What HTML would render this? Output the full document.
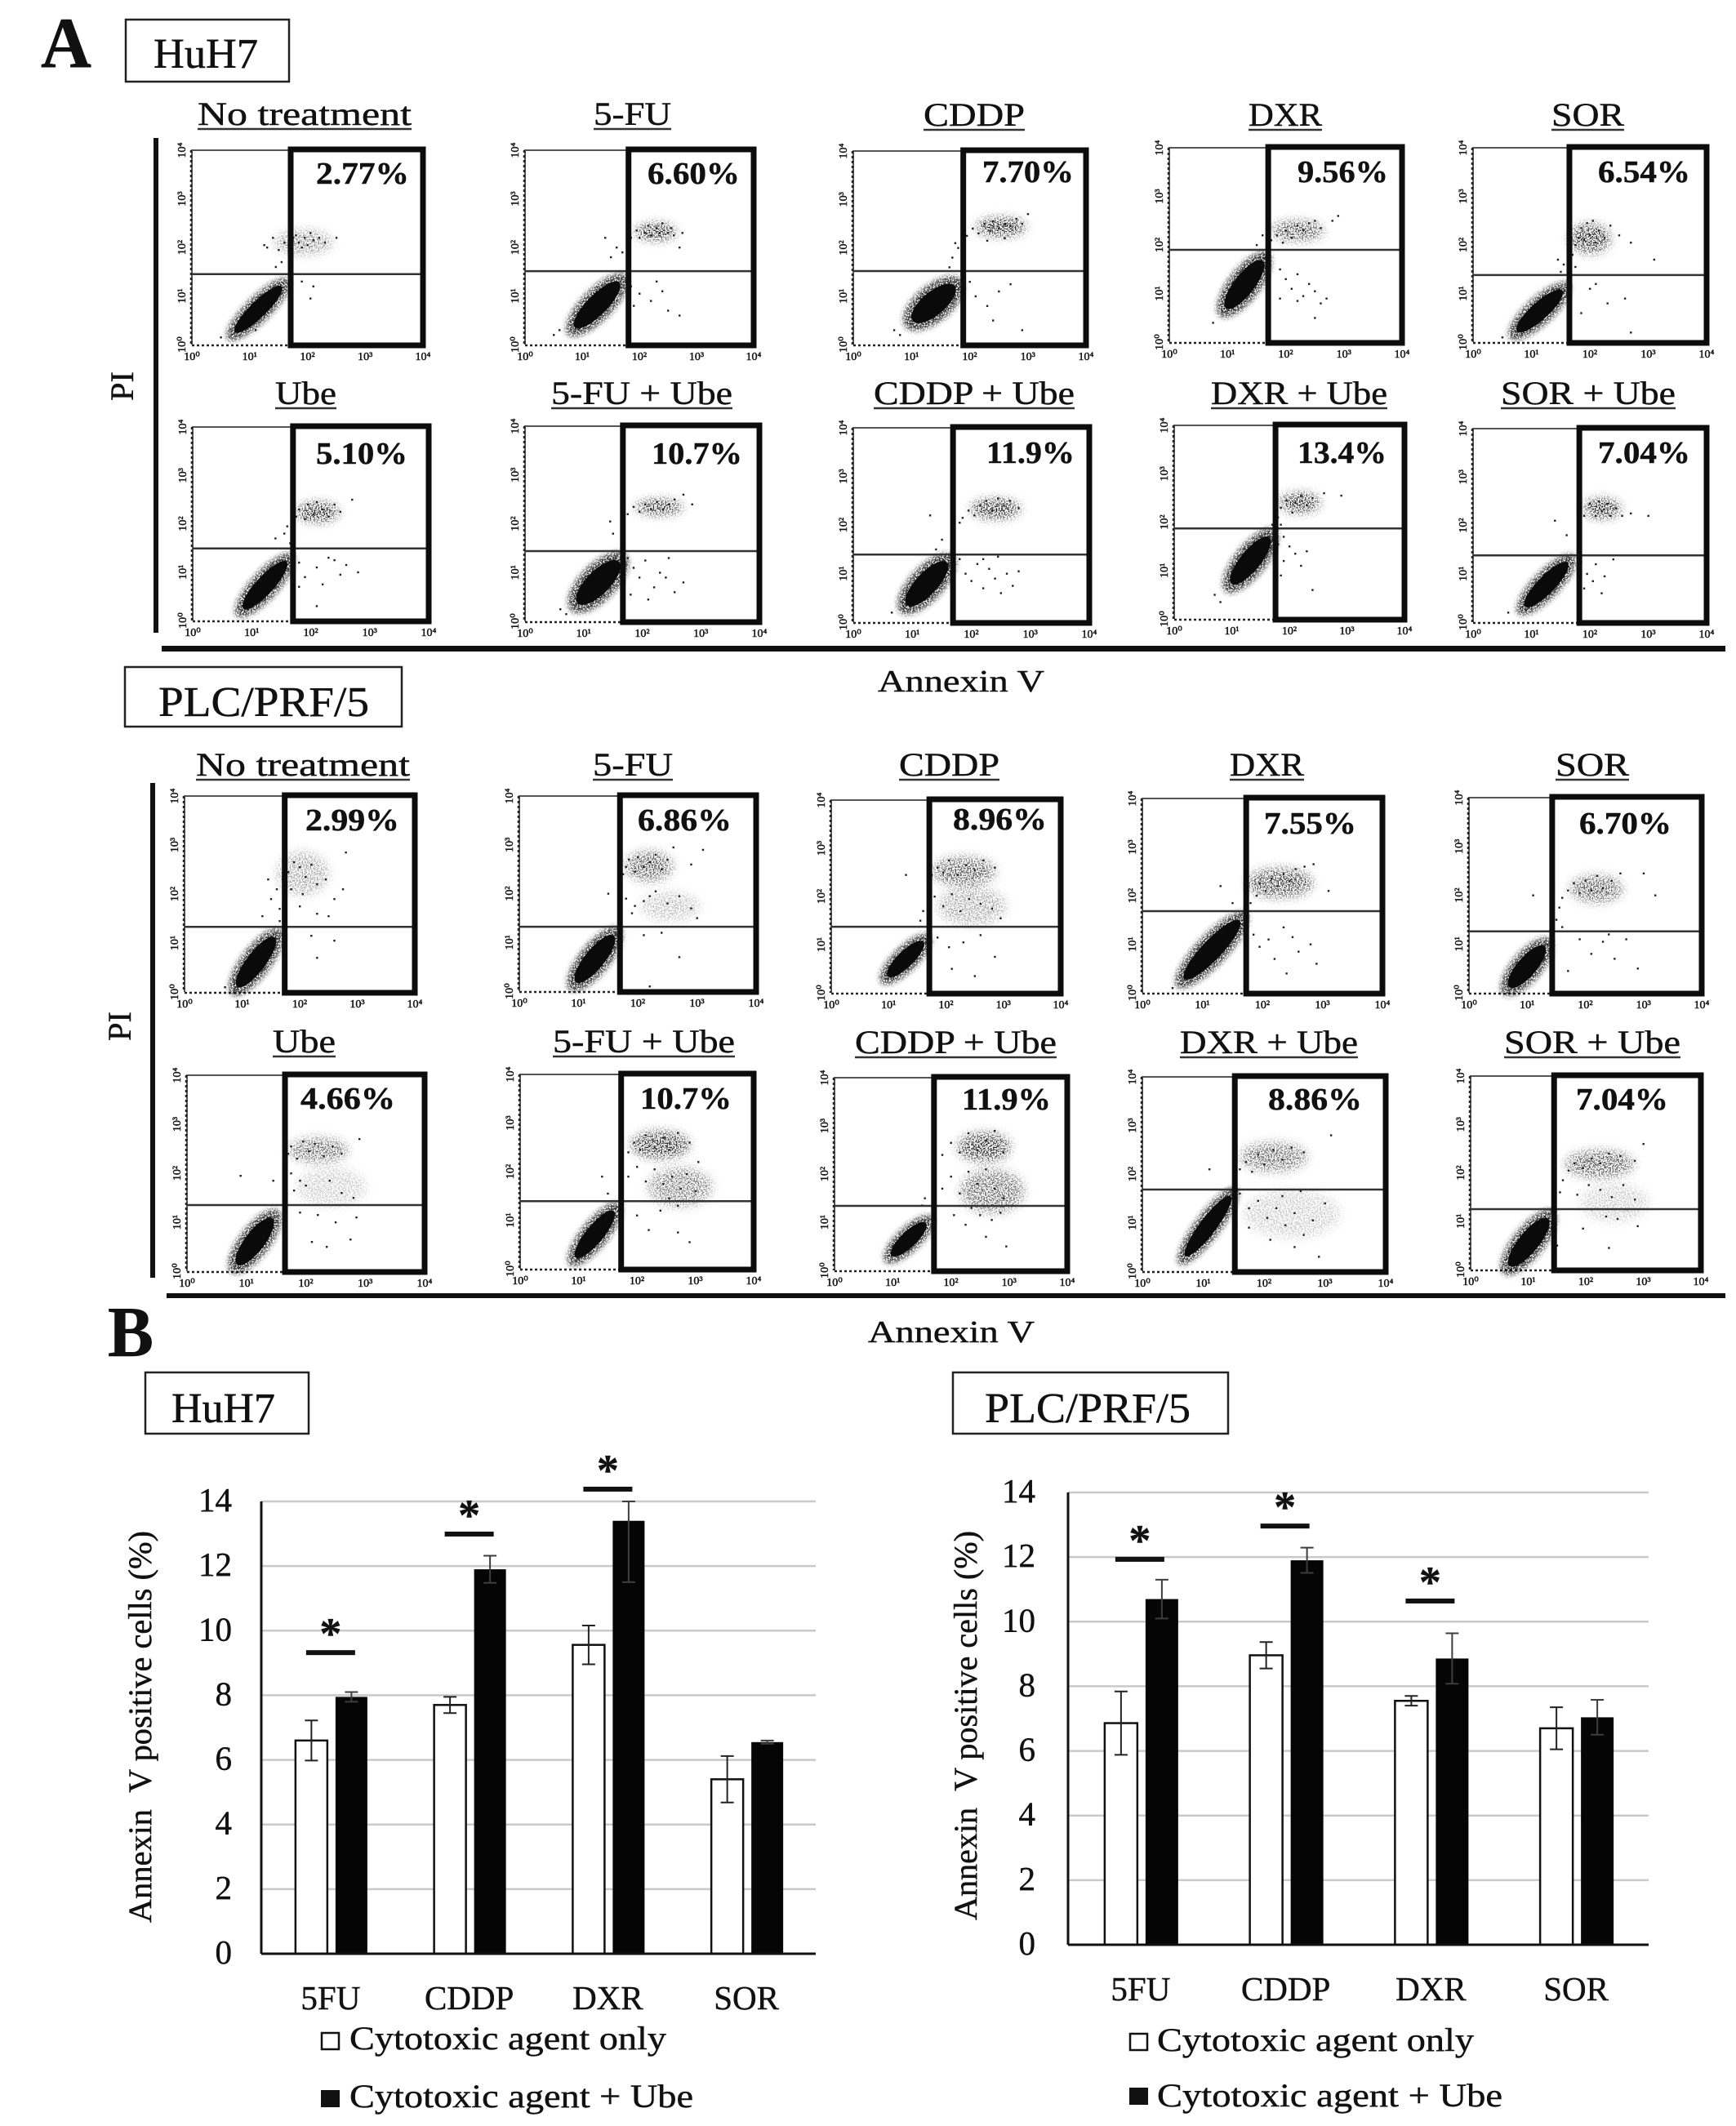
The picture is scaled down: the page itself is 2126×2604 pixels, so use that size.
<!DOCTYPE html>
<html lang="en">
<head>
<meta charset="utf-8">
<title>Annexin V flow cytometry and positive cell percentages</title>
<style>
html,body{margin:0;padding:0;background:#fff}
svg{display:block}
text{font-family:"Liberation Serif",serif;fill:#111;stroke:#111;stroke-width:.45px}
</style>
</head>
<body>
<svg id="figure" xmlns="http://www.w3.org/2000/svg" width="2126" height="2604" viewBox="0 0 2126 2604">
<defs>
<filter id="speckle" x="-60%" y="-60%" width="220%" height="220%">
<feGaussianBlur in="SourceAlpha" stdDeviation="6" result="shape"/>
<feTurbulence type="fractalNoise" baseFrequency="0.6" numOctaves="2" seed="4" result="noise"/>
<feColorMatrix in="noise" type="matrix" values="0 0 0 0 0  0 0 0 0 0  0 0 0 0 0  7 0 0 0 -3.2" result="grain"/>
<feComposite in="shape" in2="grain" operator="in"/>
</filter>
<filter id="speckle-tight" x="-60%" y="-60%" width="220%" height="220%">
<feGaussianBlur in="SourceAlpha" stdDeviation="3.5" result="shape"/>
<feTurbulence type="fractalNoise" baseFrequency="0.6" numOctaves="2" seed="9" result="noise"/>
<feColorMatrix in="noise" type="matrix" values="0 0 0 0 0  0 0 0 0 0  0 0 0 0 0  8 0 0 0 -3.2" result="grain"/>
<feComposite in="shape" in2="grain" operator="in"/>
</filter>
</defs>
<rect width="2126" height="2604" fill="#fff"/>

<text x="50" y="82" font-size="88" font-weight="bold" textLength="62" lengthAdjust="spacingAndGlyphs">A</text>
<rect x="154" y="24" width="200" height="76" fill="#fff" stroke="#222" stroke-width="2.5"/>
<text x="188" y="83" font-size="52" textLength="128" lengthAdjust="spacingAndGlyphs">HuH7</text>
<rect x="188" y="169" width="6" height="606" fill="#111"/>
<text transform="translate(163,491) rotate(-90)" font-size="40" textLength="36" lengthAdjust="spacingAndGlyphs">PI</text>
<rect x="198" y="791" width="1915" height="7" fill="#111"/>
<text x="1075" y="847" font-size="38" textLength="204" lengthAdjust="spacingAndGlyphs">Annexin V</text>

<rect x="153" y="817" width="339" height="73" fill="#fff" stroke="#222" stroke-width="2.5"/>
<text x="194" y="877" font-size="52" textLength="258" lengthAdjust="spacingAndGlyphs">PLC/PRF/5</text>
<rect x="184" y="959" width="6" height="606" fill="#111"/>
<text transform="translate(160,1275) rotate(-90)" font-size="40" textLength="36" lengthAdjust="spacingAndGlyphs">PI</text>
<rect x="204" y="1584" width="1909" height="6" fill="#111"/>
<text x="1063" y="1644" font-size="38" textLength="204" lengthAdjust="spacingAndGlyphs">Annexin V</text>

<text x="132" y="1661" font-size="88" font-weight="bold" textLength="56" lengthAdjust="spacingAndGlyphs">B</text>
<rect x="178" y="1681" width="200" height="75" fill="#fff" stroke="#222" stroke-width="2.5"/>
<text x="210" y="1742" font-size="52" textLength="127" lengthAdjust="spacingAndGlyphs">HuH7</text>
<rect x="1167" y="1681" width="337" height="75" fill="#fff" stroke="#222" stroke-width="2.5"/>
<text x="1206" y="1742" font-size="52" textLength="252" lengthAdjust="spacingAndGlyphs">PLC/PRF/5</text>

<text transform="translate(185,2355) rotate(-90)" font-size="40" textLength="480" lengthAdjust="spacingAndGlyphs">Annexin&#160;&#160;V positive cells (%)</text>
<text transform="translate(1196,2352) rotate(-90)" font-size="40" textLength="477" lengthAdjust="spacingAndGlyphs">Annexin&#160;&#160;V positive cells (%)</text>

<rect x="394" y="2490" width="21" height="20" fill="#fff" stroke="#111" stroke-width="2.5"/>
<text x="428" y="2510" font-size="40" textLength="388" lengthAdjust="spacingAndGlyphs">Cytotoxic agent only</text>
<rect x="393" y="2560" width="23" height="21" fill="#111"/>
<text x="428" y="2581" font-size="40" textLength="421" lengthAdjust="spacingAndGlyphs">Cytotoxic agent + Ube</text>
<rect x="1384" y="2491" width="21" height="20" fill="#fff" stroke="#111" stroke-width="2.5"/>
<text x="1417" y="2512" font-size="40" textLength="388" lengthAdjust="spacingAndGlyphs">Cytotoxic agent only</text>
<rect x="1383" y="2557" width="23" height="21" fill="#111"/>
<text x="1417" y="2580" font-size="40" textLength="423" lengthAdjust="spacingAndGlyphs">Cytotoxic agent + Ube</text>
</svg>

<script>
/* ===== Bar chart data ===== */
const barCategories = ['5FU', 'CDDP', 'DXR', 'SOR'];
const barTicks = [0, 2, 4, 6, 8, 10, 12, 14];
const huh7Only = [6.6, 7.7, 9.56, 5.4];
const huh7Ube = [7.95, 11.9, 13.4, 6.55];
const huh7OnlyErr = [0.62, 0.25, 0.6, 0.72];
const huh7UbeErr = [0.15, 0.42, 1.9, 0.05];
const huh7SigCategory = [0, 1, 2];
const huh7SigLevel = [9.32, 12.99, 14.38];
const plcOnly = [6.86, 8.96, 7.55, 6.7];
const plcUbe = [10.7, 11.9, 8.86, 7.04];
const plcOnlyErr = [0.98, 0.41, 0.15, 0.65];
const plcUbeErr = [0.6, 0.39, 0.78, 0.54];
const plcSigCategory = [0, 1, 2];
const plcSigLevel = [11.93, 12.96, 10.64];

/* ===== Flow cytometry data (axes in decades, 0 to 4) ===== */
const panelNames = ['huh7-no-treatment','huh7-5fu','huh7-cddp','huh7-dxr','huh7-sor','huh7-ube','huh7-5fu-ube','huh7-cddp-ube','huh7-dxr-ube','huh7-sor-ube','plc-no-treatment','plc-5fu','plc-cddp','plc-dxr','plc-sor','plc-ube','plc-5fu-ube','plc-cddp-ube','plc-dxr-ube','plc-sor-ube'];
const panelTitles = ['No treatment','5-FU','CDDP','DXR','SOR','Ube','5-FU + Ube','CDDP + Ube','DXR + Ube','SOR + Ube','No treatment','5-FU','CDDP','DXR','SOR','Ube','5-FU + Ube','CDDP + Ube','DXR + Ube','SOR + Ube'];
const percentLabels = ['2.77%','6.60%','7.70%','9.56%','6.54%','5.10%','10.7%','11.9%','13.4%','7.04%','2.99%','6.86%','8.96%','7.55%','6.70%','4.66%','10.7%','11.9%','8.86%','7.04%'];
const decadeLabels = ['10⁰','10¹','10²','10³','10⁴'];
const gateX = [1.71,1.81,1.89,1.70,1.65,1.70,1.67,1.69,1.76,1.82,1.74,1.70,1.71,1.73,1.43,1.65,1.73,1.71,1.52,1.45];
const gateY = [1.45,1.51,1.52,1.90,1.38,1.49,1.44,1.39,1.87,1.38,1.33,1.32,1.37,1.68,1.26,1.35,1.39,1.34,1.68,1.25];
/* main population: start x, start y, end x, end y, thickness (decades) */
const mainPopulation = [
[0.7,0.2,1.6,1.25,0.28],[0.83,0.3,1.69,1.33,0.35],[0.98,0.45,1.78,1.25,0.4],[0.94,0.64,1.64,1.73,0.35],[0.71,0.17,1.57,1.11,0.3],
[0.82,0.19,1.63,1.27,0.3],[0.86,0.32,1.64,1.27,0.4],[0.87,0.3,1.62,1.28,0.37],[0.96,0.67,1.69,1.74,0.35],[0.85,0.27,1.66,1.28,0.3],
[0.88,0.05,1.6,1.17,0.33],[0.92,0.13,1.63,1.19,0.33],[0.95,0.3,1.64,1.1,0.28],[0.65,0.22,1.67,1.55,0.33],[0.66,0.07,1.33,1.0,0.33],
[0.81,0.08,1.47,1.13,0.33],[0.92,0.18,1.64,1.24,0.3],[0.95,0.27,1.6,1.02,0.27],[0.67,0.25,1.49,1.61,0.27],[0.64,0.02,1.38,1.11,0.35]];
/* diffuse populations: center x, center y, radius x, radius y, density */
const clouds = [
[[1.93,2.1,0.5,0.25,0.25]],[[2.29,2.32,0.35,0.17,0.55]],[[2.54,2.43,0.42,0.18,0.6]],[[2.2,2.29,0.45,0.2,0.45]],[[2.0,2.13,0.35,0.3,0.5]],
[[2.12,2.24,0.35,0.2,0.55]],[[2.29,2.34,0.4,0.15,0.55]],[[2.41,2.33,0.42,0.2,0.55]],[[2.18,2.4,0.35,0.2,0.55]],[[2.21,2.35,0.32,0.2,0.55]],
[[2.05,2.42,0.45,0.45,0.2]],[[2.19,2.56,0.4,0.3,0.4],[2.55,1.74,0.5,0.3,0.15]],[[2.31,2.52,0.55,0.3,0.4],[2.45,1.8,0.6,0.4,0.2]],[[2.29,2.26,0.55,0.3,0.45]],[[2.19,2.13,0.45,0.27,0.4]],
[[2.21,2.47,0.5,0.25,0.35],[2.43,1.72,0.6,0.4,0.12]],[[2.4,2.55,0.5,0.28,0.5],[2.74,1.68,0.55,0.4,0.3]],[[2.57,2.56,0.45,0.3,0.5],[2.71,1.64,0.55,0.45,0.35]],[[2.16,2.35,0.55,0.3,0.35],[2.46,1.18,0.8,0.5,0.12]],[[2.24,2.18,0.6,0.28,0.4],[2.5,1.38,0.6,0.4,0.12]]];
/* individually visible events */
const events = [
[[1.25,2.05],[1.4,2.2],[1.5,1.95],[1.6,2.1],[1.7,2.0],[1.8,2.25],[1.85,2.1],[1.95,2.2],[2.0,2.05],[2.05,2.3],[2.1,2.15],[2.2,2.2],[2.3,2.1],[2.5,2.2],[1.55,1.7],[1.45,1.6],[2.1,1.2],[2.05,0.95],[1.9,1.3],[1.3,2.0],[1.9,2.0],[1.75,2.2],[0.5,0.15],[1.1,0.3],[1.7,0.9]],
[[1.85,2.2],[1.95,2.35],[2.0,2.2],[2.1,2.3],[2.15,2.45],[2.2,2.25],[2.3,2.4],[2.35,2.3],[2.4,2.5],[2.5,2.3],[2.55,2.4],[2.6,2.25],[2.75,2.3],[1.6,2.0],[1.5,1.8],[1.7,1.9],[1.4,2.2],[1.85,1.2],[2.0,1.05],[2.2,0.9],[2.3,1.3],[2.5,0.7],[2.7,0.6],[1.9,0.8],[2.4,1.1],[2.7,2.0],[0.5,0.2],[0.6,0.3]],
[[1.95,2.25],[2.05,2.4],[2.15,2.3],[2.25,2.5],[2.35,2.35],[2.4,2.55],[2.5,2.4],[2.6,2.5],[2.7,2.45],[2.8,2.6],[2.9,2.5],[3.0,2.7],[2.3,2.15],[2.6,2.2],[1.8,2.0],[1.7,1.8],[1.65,1.6],[1.75,2.1],[2.0,1.3],[2.1,1.0],[2.3,0.8],[2.5,1.1],[2.7,1.25],[2.9,0.3],[2.4,0.5],[0.7,0.3],[0.8,0.2]],
[[1.75,2.1],[1.85,2.2],[1.95,2.05],[2.0,2.3],[2.1,2.15],[2.2,2.4],[2.3,2.3],[2.4,2.45],[2.5,2.5],[2.6,2.35],[2.8,2.5],[2.9,2.6],[1.6,2.2],[1.5,2.0],[1.9,1.5],[2.0,1.3],[2.1,1.1],[2.2,1.4],[2.3,0.95],[2.4,1.2],[2.5,1.05],[2.6,0.8],[2.7,0.9],[2.2,0.85],[1.9,0.9],[2.5,0.5],[0.75,0.4]],
[[1.7,1.8],[1.75,2.0],[1.8,2.15],[1.85,2.35],[1.9,2.1],[1.95,2.45],[2.0,2.2],[2.05,2.5],[2.1,2.05],[2.15,2.3],[2.25,2.15],[2.35,2.4],[2.5,2.2],[2.7,2.05],[3.1,1.7],[1.55,1.6],[1.5,1.45],[1.45,1.7],[1.75,1.55],[2.1,1.2],[2.6,0.9],[1.85,0.6],[2.3,0.8],[2.7,0.2],[2.0,1.1],[0.5,0.1]],
[[1.75,2.15],[1.8,2.3],[1.9,2.1],[1.95,2.4],[2.05,2.2],[2.1,2.45],[2.2,2.3],[2.3,2.15],[2.4,2.4],[2.5,2.25],[2.7,2.5],[1.55,1.8],[1.6,1.95],[1.4,1.7],[1.65,1.6],[1.8,1.2],[1.9,0.9],[2.1,1.1],[2.3,1.3],[2.5,0.95],[2.6,1.15],[2.8,1.0],[2.2,0.75],[1.8,0.7],[2.4,1.25],[2.1,0.3]],
[[1.75,2.2],[1.85,2.35],[1.95,2.25],[2.05,2.4],[2.15,2.3],[2.25,2.45],[2.35,2.3],[2.45,2.4],[2.55,2.5],[2.7,2.6],[2.85,2.4],[1.5,1.8],[1.45,2.05],[1.75,1.3],[1.85,1.1],[1.95,0.9],[2.05,1.25],[2.2,0.7],[2.3,1.0],[2.45,1.3],[2.55,0.6],[2.7,0.8],[1.8,0.55],[2.1,0.45],[2.4,0.9],[0.6,0.25],[0.7,0.15]],
[[1.85,2.15],[1.95,2.3],[2.05,2.2],[2.15,2.4],[2.25,2.5],[2.35,2.3],[2.45,2.55],[2.55,2.4],[2.65,2.5],[2.8,2.35],[1.8,2.05],[1.3,2.2],[1.5,1.7],[1.4,1.5],[1.8,1.3],[1.9,1.0],[2.0,0.85],[2.1,1.2],[2.2,0.7],[2.3,1.1],[2.4,0.9],[2.5,0.6],[2.6,1.0],[2.7,0.75],[2.8,1.05],[2.2,1.3],[2.45,1.35],[0.65,0.2]],
[[1.8,2.1],[1.85,2.3],[1.95,2.45],[2.05,2.2],[2.1,2.4],[2.2,2.55],[2.3,2.35],[2.4,2.5],[2.6,2.6],[2.9,2.55],[1.7,1.95],[1.75,2.05],[1.85,1.95],[1.9,1.7],[1.8,1.55],[2.0,1.5],[2.1,1.35],[2.2,1.1],[1.9,1.2],[2.3,1.4],[2.4,0.6],[1.85,0.9],[0.7,0.5],[0.8,0.35]],
[[1.9,2.2],[2.0,2.45],[2.1,2.2],[2.15,2.5],[2.2,2.3],[2.3,2.45],[2.35,2.2],[2.45,2.35],[2.55,2.2],[2.7,2.25],[3.0,2.2],[1.6,1.8],[1.4,2.1],[1.85,1.25],[1.95,1.0],[2.05,0.85],[2.1,1.2],[2.2,0.6],[2.4,1.3],[1.9,0.7],[2.25,0.95],[0.6,0.2],[0.9,0.25]],
[[1.45,2.3],[1.5,1.9],[1.6,2.1],[1.65,1.7],[1.7,2.3],[1.8,2.45],[1.85,2.1],[1.9,2.65],[2.0,2.55],[2.05,2.0],[2.1,2.35],[2.2,2.6],[2.3,2.2],[2.45,2.3],[2.6,1.9],[2.75,2.1],[2.8,2.85],[2.0,1.75],[2.3,1.6],[2.5,1.55],[1.35,1.55],[1.65,1.45],[2.2,1.15],[2.6,1.05],[2.3,0.7],[0.7,0.1]],
[[1.75,2.4],[1.8,2.55],[1.85,2.7],[1.95,2.45],[2.0,2.75],[2.1,2.55],[2.2,2.65],[2.3,2.8],[2.4,2.5],[2.5,2.7],[2.6,2.95],[2.9,2.6],[3.1,2.9],[1.8,1.9],[1.9,1.6],[1.95,1.75],[2.1,1.85],[2.2,1.95],[2.3,2.05],[2.5,1.8],[2.7,1.95],[2.9,1.7],[3.0,1.5],[2.1,1.15],[2.4,1.2],[2.7,0.7],[1.5,2.0],[2.2,0.1]],
[[1.75,2.45],[1.85,2.6],[1.95,2.5],[2.05,2.75],[2.2,2.45],[2.35,2.65],[2.5,2.55],[2.65,2.75],[2.85,2.6],[1.8,2.0],[1.95,1.8],[2.1,2.05],[2.25,1.7],[2.4,1.95],[2.6,1.85],[2.8,1.75],[2.95,1.55],[1.6,1.7],[1.55,1.5],[1.3,2.45],[1.85,1.15],[2.05,0.95],[2.3,1.05],[2.6,1.2],[2.85,0.75],[2.1,0.5],[2.5,0.35]],
[[1.8,1.85],[1.9,2.0],[1.95,2.25],[2.05,2.1],[2.15,2.35],[2.25,2.2],[2.35,2.45],[2.45,2.3],[2.55,2.55],[2.7,2.6],[2.85,2.65],[3.1,2.1],[1.3,2.2],[1.5,1.85],[1.85,1.2],[1.95,0.95],[2.1,1.1],[2.2,0.7],[2.35,1.35],[2.5,1.15],[2.6,0.85],[2.8,1.0],[2.9,0.6],[2.4,0.4],[0.5,0.1]],
[[1.5,1.5],[1.55,1.75],[1.6,1.95],[1.7,2.1],[1.8,2.25],[1.9,2.05],[2.0,2.3],[2.1,2.1],[2.2,2.4],[2.3,2.15],[2.45,2.3],[2.6,2.45],[3.0,2.45],[3.2,2.0],[1.1,2.0],[1.6,1.35],[1.9,1.1],[2.1,0.8],[2.3,1.05],[2.5,0.7],[2.7,1.1],[2.9,0.5],[1.7,0.45],[2.4,1.2]],
[[1.7,2.4],[1.75,2.55],[1.85,2.3],[1.95,2.65],[2.05,2.45],[2.15,2.6],[2.3,2.35],[2.45,2.55],[2.6,2.4],[2.9,2.7],[1.75,2.0],[1.8,1.65],[1.9,1.85],[2.0,1.75],[2.4,1.85],[2.6,1.6],[2.8,1.5],[1.45,1.85],[0.9,1.95],[1.9,1.2],[2.2,1.15],[2.5,1.0],[2.85,1.1],[2.75,0.65],[2.1,0.6],[2.35,0.5]],
[[1.85,2.4],[1.95,2.6],[2.05,2.45],[2.15,2.75],[2.3,2.5],[2.45,2.7],[2.55,2.45],[2.7,2.8],[2.9,2.6],[3.05,2.2],[1.85,1.9],[2.0,2.1],[2.15,1.8],[2.3,2.05],[2.45,1.75],[2.6,1.9],[2.75,1.65],[2.85,1.95],[3.0,1.6],[2.55,1.45],[2.7,1.3],[2.4,1.2],[2.0,1.1],[2.2,0.8],[2.7,0.75],[2.9,0.55],[1.4,1.9],[1.5,1.55]],
[[1.85,2.4],[2.0,2.65],[2.15,2.45],[2.3,2.85],[2.45,2.5],[2.6,2.7],[2.75,2.9],[2.9,2.45],[1.85,1.7],[2.0,1.95],[2.15,1.6],[2.3,2.05],[2.45,1.8],[2.6,2.1],[2.75,1.7],[2.9,1.5],[3.05,1.35],[2.35,1.3],[2.5,1.15],[2.7,1.05],[2.85,1.2],[2.05,1.15],[2.25,0.95],[2.6,0.7],[2.95,0.5],[1.5,1.35],[1.55,1.5]],
[[1.6,2.1],[1.7,2.25],[1.8,2.05],[1.9,2.4],[2.0,2.2],[2.15,2.5],[2.3,2.3],[2.45,2.55],[2.65,2.45],[3.1,2.8],[1.1,2.1],[1.6,1.6],[1.75,1.3],[1.9,1.45],[2.05,1.1],[2.2,1.3],[2.35,0.95],[2.5,1.2],[2.65,0.75],[2.8,1.05],[3.0,1.4],[1.75,0.9],[2.1,0.65],[2.5,0.5],[2.9,0.3],[2.3,1.55],[2.6,1.65]],
[[1.55,1.6],[1.6,1.85],[1.7,2.05],[1.8,2.2],[1.95,2.1],[2.1,2.3],[2.25,2.2],[2.4,2.4],[2.6,2.35],[2.85,2.25],[3.0,2.6],[1.85,1.55],[2.05,1.75],[2.25,1.65],[2.45,1.5],[2.65,1.75],[2.85,1.45],[2.1,1.25],[2.35,1.1],[2.55,1.05],[2.7,1.25],[2.9,0.9],[1.5,0.5],[1.95,0.85],[2.4,0.45]]];

/* Panel frame and text placement */
const panelLayout = [
{l:235,t:184,r:518,b:422,tx:242,tw:262,ty:153,px:387,pw:114,py:225},
{l:643,t:184,r:923,b:422,tx:727,tw:95,ty:153,px:793,pw:113,py:225},
{l:1045,t:185,r:1330,b:422,tx:1131,tw:124,ty:154,px:1203,pw:112,py:223},
{l:1432,t:181,r:1717,b:419,tx:1529,tw:90,ty:154,px:1589,pw:111,py:223},
{l:1804,t:181,r:2090,b:419,tx:1900,tw:89,ty:154,px:1957,pw:113,py:223},
{l:236,t:523,r:525,b:760,tx:337,tw:75,ty:495,px:387,pw:112,py:568},
{l:643,t:522,r:930,b:761,tx:675,tw:222,ty:495,px:798,pw:111,py:568},
{l:1045,t:524,r:1334,b:762,tx:1070,tw:246,ty:495,px:1208,pw:108,py:567},
{l:1438,t:521,r:1720,b:758,tx:1483,tw:216,ty:495,px:1589,pw:109,py:567},
{l:1804,t:525,r:2090,b:762,tx:1838,tw:214,ty:495,px:1957,pw:113,py:567},
{l:226,t:975,r:508,b:1215,tx:240,tw:262,ty:950,px:374,pw:115,py:1017},
{l:636,t:975,r:926,b:1214,tx:726,tw:98,ty:950,px:781,pw:115,py:1017},
{l:1018,t:980,r:1299,b:1216,tx:1101,tw:123,ty:950,px:1167,pw:115,py:1016},
{l:1399,t:978,r:1693,b:1216,tx:1506,tw:91,ty:950,px:1548,pw:113,py:1021},
{l:1799,t:977,r:2084,b:1216,tx:1905,tw:90,ty:950,px:1934,pw:113,py:1021},
{l:229,t:1317,r:520,b:1557,tx:334,tw:77,ty:1289,px:368,pw:116,py:1358},
{l:637,t:1316,r:923,b:1554,tx:677,tw:223,ty:1289,px:784,pw:112,py:1358},
{l:1022,t:1320,r:1307,b:1556,tx:1047,tw:247,ty:1290,px:1178,pw:109,py:1359},
{l:1399,t:1319,r:1697,b:1557,tx:1445,tw:218,ty:1290,px:1553,pw:115,py:1359},
{l:1801,t:1318,r:2083,b:1555,tx:1842,tw:216,ty:1290,px:1930,pw:113,py:1359}];

const svg = document.getElementById('figure');
const NS = 'http://www.w3.org/2000/svg';
function make(tag, attrs, parent) {
  const node = document.createElementNS(NS, tag);
  for (const k in attrs) node.setAttribute(k, attrs[k]);
  (parent || svg).appendChild(node);
  return node;
}

function drawFlowPanel(i) {
  const p = panelLayout[i];
  const name = panelNames[i];
  const sx = v => p.l + (v / 4) * (p.r - p.l);
  const sy = v => p.b - (v / 4) * (p.b - p.t);

  const g = make('g', {});
  
  

  const title = make('text', {x: p.tx, y: p.ty, 'font-size': 40, textLength: p.tw, lengthAdjust: 'spacingAndGlyphs'}, g);
  title.textContent = panelTitles[i];
  
  

  const rule = make('line', {x1: p.tx, x2: p.tx + p.tw, y1: p.ty + 5, y2: p.ty + 5, stroke: '#333', 'stroke-width': 2.5}, g);
  
  

  const frame = make('path', {d: 'M' + p.l + ' ' + p.b + 'V' + p.t + 'H' + p.r, fill: 'none', stroke: '#555', 'stroke-width': 2}, g);
  
  

  const baseAxis = make('line', {x1: p.l, x2: p.r, y1: p.b + 1, y2: p.b + 1, stroke: '#222', 'stroke-width': 2.5, 'stroke-dasharray': '3 3'}, g);
  
  

  const sideAxis = make('line', {x1: p.l - 1, x2: p.l - 1, y1: p.t, y2: p.b, stroke: '#222', 'stroke-width': 2.5, 'stroke-dasharray': '3 3'}, g);
  
  

  decadeLabels.forEach((lab, d) => {
    const xl = make('text', {x: sx(d), y: p.b + 19, 'font-size': 14, 'text-anchor': 'middle'}, g);
    xl.textContent = lab;
    
    
    const yl = make('text', {transform: 'translate(' + (p.l - 8) + ',' + sy(d) + ') rotate(-90)', 'font-size': 14, 'text-anchor': 'middle'}, g);
    yl.textContent = lab;
    
    
  });

  clouds[i].forEach(c => {
    const cloud = make('ellipse', {cx: sx(c[0]), cy: sy(c[1]), rx: c[2] * (p.r - p.l) / 4, ry: c[3] * (p.b - p.t) / 4, fill: '#000', opacity: Math.min(1, c[4] * 1.7), filter: 'url(#speckle)'}, g);
    
    
  });

  const m = mainPopulation[i];
  const x0 = sx(m[0]), y0 = sy(m[1]), x1 = sx(m[2]), y1 = sy(m[3]);
  const cx = (x0 + x1) / 2, cy = (y0 + y1) / 2;
  const half = Math.hypot(x1 - x0, y1 - y0) / 2;
  const angle = Math.atan2(y1 - y0, x1 - x0) * 180 / Math.PI;
  const thick = m[4] * (p.r - p.l) / 4;
  const halo = make('ellipse', {cx: cx, cy: cy, rx: half + 8, ry: thick * 0.78, fill: '#000', opacity: 0.85, filter: 'url(#speckle-tight)', transform: 'rotate(' + angle + ' ' + cx + ' ' + cy + ')'}, g);
  
  
  const core = make('ellipse', {cx: cx, cy: cy, rx: half * 0.9, ry: thick * 0.5, fill: '#0a0a0a', transform: 'rotate(' + angle + ' ' + cx + ' ' + cy + ')'}, g);
  
  

  events[i].forEach(e => {
    const dot = make('rect', {x: sx(e[0]) - 1, y: sy(e[1]) - 1, width: 2.4, height: 2.4, fill: '#222'}, g);
    
    
  });

  const hline = make('line', {x1: p.l, x2: p.r, y1: sy(gateY[i]), y2: sy(gateY[i]), stroke: '#333', 'stroke-width': 2.5}, g);
  
  

  const gx = sx(gateX[i]);
  const box = make('rect', {x: gx, y: p.t - 1, width: p.r - gx, height: p.b - p.t + 2, fill: 'none', stroke: '#0c0c0c', 'stroke-width': 7}, g);
  
  

  const pct = make('text', {x: p.px, y: p.py, 'font-size': 38, 'font-weight': 'bold', textLength: p.pw, lengthAdjust: 'spacingAndGlyphs'}, g);
  pct.textContent = percentLabels[i];
  
  
}
panelNames.forEach((_, i) => drawFlowPanel(i));

function drawBarChart(cfg) {
  const g = make('g', {});
  
  

  const yMax = barTicks[barTicks.length - 1];
  const sy = v => cfg.y0 - (v / yMax) * (cfg.y0 - cfg.yTop);
  const band = (cfg.xRight - cfg.xLeft) / barCategories.length;
  const cx = i => cfg.xLeft + band * (i + 0.5);

  barTicks.forEach(t => {
    if (t > 0) {
      const grid = make('line', {x1: cfg.xLeft, x2: cfg.xRight, y1: sy(t), y2: sy(t), stroke: '#c9c9c9', 'stroke-width': 2.5}, g);
      
      
    }
    const tick = make('text', {x: cfg.tickRight, y: sy(t) + 12, 'font-size': 41, 'text-anchor': 'end'}, g);
    tick.textContent = t;
    
    
  });

  function errorBar(x, v, e, color, parent) {
    const hi = Math.min(v + e, yMax), lo = v - e;
    const stem = make('line', {x1: x, x2: x, y1: sy(hi), y2: sy(lo), stroke: color, 'stroke-width': 2}, parent);
    
    
    const capHi = make('line', {x1: x - 8, x2: x + 8, y1: sy(hi), y2: sy(hi), stroke: color, 'stroke-width': 2}, parent);
    
    
    const capLo = make('line', {x1: x - 8, x2: x + 8, y1: sy(lo), y2: sy(lo), stroke: color, 'stroke-width': 2}, parent);
    
    
  }

  barCategories.forEach((cat, i) => {
    const c = cx(i);
    const white = make('rect', {x: c - cfg.outer, y: sy(cfg.only[i]), width: cfg.outer - cfg.gap, height: cfg.y0 - sy(cfg.only[i]), fill: '#fff', stroke: '#111', 'stroke-width': 2.5}, g);
    
    
    const black = make('rect', {x: c + cfg.gap + 2, y: sy(cfg.ube[i]), width: cfg.outer - cfg.gap, height: cfg.y0 - sy(cfg.ube[i]), fill: '#050505'}, g);
    
    
    errorBar(c - (cfg.outer + cfg.gap) / 2, cfg.only[i], cfg.onlyErr[i], '#222', g);
    errorBar(c + cfg.gap + 2 + (cfg.outer - cfg.gap) / 2, cfg.ube[i], cfg.ubeErr[i], '#3d3d3d', g);
    const label = make('text', {x: c, y: cfg.catY, 'font-size': 41, 'text-anchor': 'middle'}, g);
    label.textContent = cat;
    
    
  });

  const yAxis = make('line', {x1: cfg.xLeft, x2: cfg.xLeft, y1: cfg.yTop, y2: cfg.y0, stroke: '#111', 'stroke-width': 3}, g);
  
  
  const xAxis = make('line', {x1: cfg.xLeft, x2: cfg.xRight, y1: cfg.y0, y2: cfg.y0, stroke: '#111', 'stroke-width': 3}, g);
  
  

  cfg.sigCat.forEach((k, j) => {
    const c = cx(k) + cfg.sigShift;
    const y = sy(cfg.sigLevel[j]);
    const bar = make('rect', {x: c - 30, y: y - 3, width: 60, height: 6, fill: '#111'}, g);
    
    
    const star = make('text', {x: c, y: y - 5, 'font-size': 54, 'font-weight': 'bold', 'text-anchor': 'middle'}, g);
    star.textContent = '*';
    
    
  });
}

drawBarChart({name: 'huh7-bar-chart', xLeft: 320, xRight: 999, yTop: 1839, y0: 2393, tickRight: 284, catY: 2461, outer: 43, gap: 4, only: huh7Only, ube: huh7Ube, onlyErr: huh7OnlyErr, ubeErr: huh7UbeErr, sigCat: huh7SigCategory, sigLevel: huh7SigLevel, sigShift: 0});
drawBarChart({name: 'plc-bar-chart', xLeft: 1308, xRight: 2019, yTop: 1828, y0: 2382, tickRight: 1268, catY: 2450, outer: 44, gap: 4, only: plcOnly, ube: plcUbe, onlyErr: plcOnlyErr, ubeErr: plcUbeErr, sigCat: plcSigCategory, sigLevel: plcSigLevel, sigShift: -1});
</script>
</body>
</html>
